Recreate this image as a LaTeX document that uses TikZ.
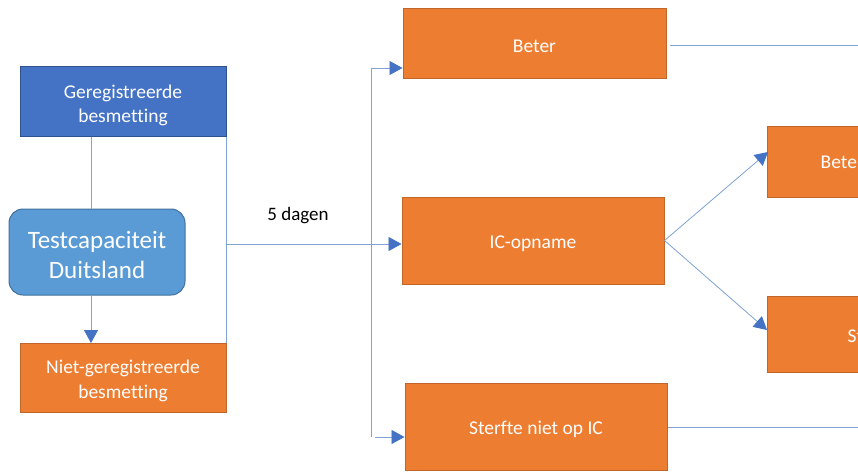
\documentclass[tikz,border=0pt]{standalone}
\usepackage{fontspec}
\setmainfont{Carlito}[Ligatures=NoCommon]
\usetikzlibrary{arrows.meta}
\definecolor{orng}{HTML}{ED7D31}
\definecolor{orngb}{HTML}{C0662A}
\definecolor{blu}{HTML}{4472C4}
\definecolor{blub}{HTML}{2F528F}
\definecolor{lblu}{HTML}{5B9BD5}
\definecolor{lblub}{HTML}{41719C}
\definecolor{conn}{HTML}{7FA3D3}
\begin{document}
\begin{tikzpicture}[x=1pt,y=-1pt,
  txt/.style={text=white,inner sep=0pt,align=center,font=\fontsize{19.5}{24.5}\selectfont},
  box/.style={draw=orngb,line width=1pt,fill=orng,inner sep=0pt},
  bbox/.style={box,draw=blub,fill=blu},
  cn/.style={draw=conn,line width=0.8pt},
  ar/.style={cn,-{Triangle[length=13pt,width=14pt,fill=blu,color=blu]}}]
\useasboundingbox (0,0) rectangle (858,473);
\clip (0,0) rectangle (858,473);
\fill[white] (0,0) rectangle (858,473);
% left column
\node[bbox,minimum width=206pt,minimum height=70pt,
  label={[txt,yshift=-3.5pt]center:Geregistreerde\\besmetting}] (geg) at (123,102) {};
\node[draw=lblub,line width=1pt,fill=lblu,rounded corners=14pt,
  minimum width=176pt,minimum height=86pt,inner sep=0pt,
  label={[txt,font=\fontsize{25}{30}\selectfont,yshift=-2.5pt]center:Testcapaciteit\\Duitsland}] (test) at (97,252) {};
\node[box,minimum width=206pt,minimum height=69pt,
  label={[txt,yshift=-3.5pt]center:Niet-geregistreerde\\besmetting}] (niet) at (123,377.5) {};
% middle column
\node[box,minimum width=263pt,minimum height=70pt,
  label={[txt,yshift=-2.5pt]center:Beter}] (beter) at (534.5,43.5) {};
\node[box,minimum width=262pt,minimum height=87pt,
  label={[txt,yshift=-3pt]center:IC-opname}] (ic) at (533,240.5) {};
\node[box,minimum width=262pt,minimum height=87pt,
  label={[txt,yshift=-3pt]center:Sterfte niet op IC}] (sterf) at (536,426.5) {};
% right column (cut off at the edge)
\node[box,minimum width=263pt,minimum height=70pt] (beter2) at (898.5,162) {};
\node[box,minimum width=263pt,minimum height=76pt] (sterf2) at (898.5,334) {};
\node[txt,anchor=base west] (beter2t) at (820.5,168.5) {Beter};
\node[txt,anchor=base west] (sterf2t) at (847.5,342.5) {Sterfte op IC};
% label
\node[font=\fontsize{19}{23}\selectfont,text=black,inner sep=0pt,anchor=base] (lbl) at (298,220) {5 dagen};
% coordinates
\coordinate (gx) at (91,137);
\coordinate (tx) at (91,209);
\coordinate (tb) at (91,295);
\coordinate (nt) at (91,343);
\coordinate (rtop) at (226,137);
\coordinate (rbot) at (226,343);
\coordinate (hy) at (226,244);
\coordinate (vtop) at (371,68);
\coordinate (vbot) at (371,437);
\coordinate (sst) at (375,437);
\coordinate (bstart) at (670,45);
\coordinate (bline) at (858,45);
\coordinate (sstart) at (668,427);
\coordinate (sline) at (858,427);
\coordinate (up) at (768,152);
\coordinate (down) at (767,330);
% connectors
\draw[cn] (gx) -- (tx);
\draw[ar] (tb) -- (nt);
\draw[cn] (rtop) -- (rbot);
\draw[ar] (hy) -- (ic.west |- hy);
\draw[cn] (vtop) -- (vbot);
\draw[ar] (vtop) -- (beter.west |- vtop);
\draw[ar] (sst) -- (sterf.west |- sst);
\draw[cn] (bstart) -- (bline);
\draw[cn] (sstart) -- (sline);
\draw[ar] (ic.east) -- (up);
\draw[ar] (ic.east) -- (down);
\end{tikzpicture}
\end{document}
